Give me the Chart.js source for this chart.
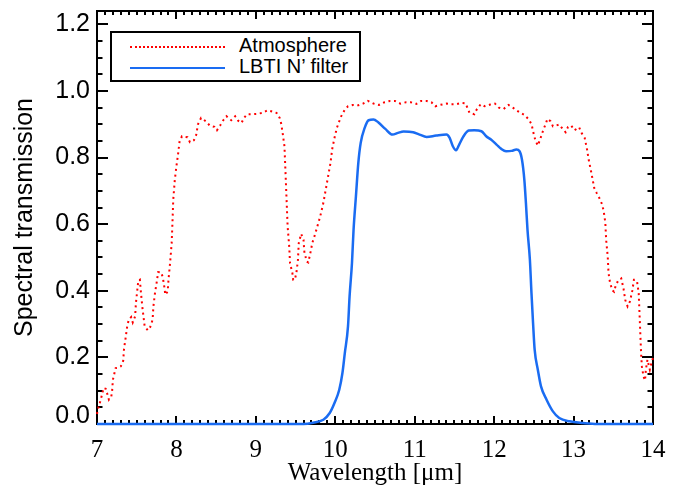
<!DOCTYPE html>
<html>
<head>
<meta charset="utf-8">
<script src="https://cdn.jsdelivr.net/npm/chart.js@4/dist/chart.umd.min.js"></script>
<style>
html,body{margin:0;padding:0;background:#fff;}
#wrap{position:relative;width:683px;height:493px;overflow:hidden;}
#legend{position:absolute;left:110px;top:31px;width:251px;height:51px;box-sizing:border-box;border:2px solid #000;background:#fff;font-family:'Liberation Sans',Arial,sans-serif;font-size:20px;line-height:20px;color:#000;}
#legend .s{position:absolute;left:18px;width:95px;}
#legend .t{position:absolute;left:127px;white-space:nowrap;}
</style>
</head>
<body>
<div id="wrap">
<canvas id="c" width="683" height="493"></canvas>
<div id="legend">
  <div class="s" style="top:12.7px;border-top:2px dotted #ff0000;"></div>
  <div class="t" style="top:2.4px;">Atmosphere</div>
  <div class="s" style="top:33.5px;border-top:2.5px solid #1a6cf2;"></div>
  <div class="t" style="top:23.4px;">LBTI N’ filter</div>
</div>
</div>
<script>
// ---- Data ----
const atmWavelength = [7.00,7.01,7.03,7.05,7.07,7.08,7.11,7.13,7.15,7.18,7.19,7.20,7.22,7.235,7.27,7.30,7.33,7.34,7.36,7.38,7.40,7.43,7.45,7.48,7.49,7.51,7.52,7.54,7.55,7.57,7.59,7.60,7.64,7.67,7.70,7.71,7.73,7.75,7.77,7.81,7.83,7.85,7.86,7.89,7.90,7.92,7.94,7.95,7.96,7.98,8.00,8.02,8.04,8.07,8.11,8.14,8.17,8.22,8.25,8.27,8.31,8.37,8.42,8.48,8.51,8.55,8.59,8.63,8.69,8.74,8.78,8.82,8.85,8.89,8.95,9.01,9.08,9.15,9.21,9.26,9.30,9.32,9.34,9.36,9.37,9.38,9.39,9.40,9.42,9.43,9.46,9.47,9.49,9.51,9.53,9.54,9.57,9.60,9.61,9.64,9.66,9.69,9.71,9.75,9.78,9.81,9.85,9.88,9.91,9.94,9.96,9.99,10.02,10.07,10.12,10.16,10.22,10.29,10.35,10.41,10.48,10.55,10.62,10.69,10.75,10.82,10.89,10.95,11.02,11.08,11.15,11.21,11.26,11.32,11.40,11.46,11.52,11.59,11.64,11.69,11.75,11.78,11.83,11.88,11.95,12.01,12.06,12.12,12.18,12.24,12.28,12.32,12.38,12.43,12.47,12.50,12.52,12.55,12.57,12.60,12.62,12.65,12.67,12.71,12.74,12.78,12.82,12.87,12.90,12.93,12.97,13.01,13.07,13.10,13.14,13.17,13.19,13.22,13.24,13.26,13.29,13.33,13.36,13.38,13.40,13.41,13.43,13.44,13.46,13.49,13.51,13.53,13.56,13.60,13.63,13.65,13.68,13.71,13.74,13.76,13.78,13.80,13.82,13.83,13.84,13.85,13.86,13.88,13.90,13.91,13.93,13.96,13.98,14.00];
const atmTransmission = [0.030,0.043,0.058,0.076,0.094,0.108,0.106,0.090,0.073,0.083,0.098,0.133,0.153,0.168,0.169,0.173,0.190,0.225,0.258,0.293,0.313,0.321,0.305,0.323,0.363,0.408,0.430,0.433,0.403,0.353,0.313,0.293,0.281,0.291,0.313,0.353,0.393,0.423,0.456,0.455,0.438,0.408,0.388,0.398,0.433,0.483,0.543,0.604,0.674,0.734,0.774,0.809,0.849,0.864,0.862,0.861,0.846,0.852,0.869,0.899,0.919,0.909,0.896,0.892,0.882,0.896,0.912,0.924,0.912,0.924,0.910,0.904,0.919,0.930,0.930,0.931,0.934,0.942,0.938,0.934,0.919,0.901,0.869,0.834,0.774,0.714,0.653,0.593,0.533,0.483,0.453,0.433,0.433,0.453,0.493,0.543,0.571,0.553,0.518,0.488,0.485,0.518,0.543,0.573,0.598,0.623,0.664,0.704,0.744,0.784,0.824,0.859,0.889,0.922,0.944,0.954,0.958,0.957,0.962,0.970,0.962,0.958,0.966,0.970,0.970,0.962,0.966,0.966,0.961,0.970,0.970,0.966,0.954,0.958,0.962,0.960,0.960,0.964,0.963,0.934,0.930,0.944,0.960,0.954,0.959,0.962,0.950,0.946,0.958,0.949,0.942,0.936,0.928,0.916,0.901,0.869,0.851,0.836,0.849,0.869,0.884,0.901,0.916,0.909,0.894,0.896,0.899,0.884,0.876,0.892,0.896,0.882,0.891,0.874,0.859,0.824,0.794,0.759,0.734,0.709,0.694,0.676,0.659,0.638,0.604,0.553,0.503,0.453,0.423,0.401,0.397,0.415,0.430,0.437,0.405,0.373,0.353,0.368,0.401,0.433,0.433,0.427,0.393,0.333,0.273,0.213,0.173,0.143,0.131,0.163,0.193,0.163,0.183,0.198];

const filterWavelength = [7.00,9.60,9.72,9.85,9.93,9.99,10.05,10.09,10.12,10.16,10.18,10.21,10.23,10.26,10.29,10.32,10.37,10.42,10.48,10.54,10.63,10.72,10.79,10.86,10.98,11.06,11.15,11.27,11.40,11.44,11.48,11.52,11.56,11.61,11.68,11.75,11.84,11.90,11.96,12.03,12.09,12.15,12.22,12.28,12.32,12.35,12.38,12.40,12.42,12.45,12.47,12.49,12.51,12.55,12.59,12.66,12.74,12.82,12.95,13.12,13.30,14.00];
const filterTransmission = [0.000,0.000,0.004,0.013,0.033,0.063,0.103,0.153,0.213,0.293,0.383,0.483,0.583,0.684,0.784,0.844,0.889,0.912,0.914,0.906,0.886,0.869,0.874,0.878,0.876,0.869,0.862,0.866,0.869,0.859,0.834,0.822,0.839,0.862,0.881,0.882,0.879,0.864,0.854,0.839,0.826,0.819,0.820,0.824,0.819,0.794,0.734,0.664,0.583,0.493,0.393,0.303,0.223,0.163,0.113,0.073,0.038,0.018,0.008,0.003,0.000,0.000];

const xTickValues = [7, 8, 9, 10, 11, 12, 13, 14];
const yTickValues = [0.0, 0.2, 0.4, 0.6, 0.8, 1.0, 1.2];
const xMinorStep = 0.1;
const yMinorStep = 0.05;
const xRange = [7, 14];
const yRange = [0, 1.24];

// ---- Plugins ----
const framePlugin = {
  id: 'frameTicks',
  beforeDatasetsDraw(chart) {
    const {ctx, chartArea: {left, right, top, bottom}, scales: {x, y}} = chart;
    ctx.save();
    ctx.strokeStyle = '#000';
    ctx.lineWidth = 2;
    ctx.strokeRect(left, top, right - left, bottom - top);
    ctx.beginPath();
    const nx = Math.round((xRange[1] - xRange[0]) / xMinorStep);
    for (let i = 0; i <= nx; i++) {
      const v = xRange[0] + i * xMinorStep;
      const px = Math.round(x.getPixelForValue(v));
      const len = (i % 10 === 0) ? 8 : 4;
      ctx.moveTo(px, bottom); ctx.lineTo(px, bottom - len);
      ctx.moveTo(px, top); ctx.lineTo(px, top + len);
    }
    const ny = Math.floor((yRange[1] - yRange[0]) / yMinorStep + 1e-6);
    for (let i = 0; i <= ny; i++) {
      const v = yRange[0] + i * yMinorStep;
      const py = Math.round(y.getPixelForValue(v));
      const len = (i % 4 === 0) ? 11 : 5.5;
      ctx.moveTo(left, py); ctx.lineTo(left + len, py);
      ctx.moveTo(right, py); ctx.lineTo(right - len, py);
    }
    ctx.stroke();
    ctx.restore();
  }
};

const shiftZeroLabel = {
  id: 'shiftZeroLabel',
  afterLayout(chart) {
    const s = chart.scales.y;
    if (!s || s.__patched) return;
    const orig = s._computeLabelItems;
    s._computeLabelItems = function (ca) {
      const items = orig.call(this, ca);
      items.forEach(it => { if (it.label === '0.0') it.options.translation[1] -= 8; });
      return items;
    };
    s.__patched = true;
  }
};

new Chart(document.getElementById('c'), {
  type: 'line',
  data: {
    datasets: [
      {
        label: 'Atmosphere',
        data: atmWavelength.map((w, i) => ({x: w, y: atmTransmission[i]})),
        borderColor: '#ff0000',
        borderWidth: 2,
        borderDash: [2, 3.6],
        borderCapStyle: 'butt',
        pointRadius: 0,
        tension: 0,
        fill: false,
        clip: false
      },
      {
        label: 'LBTI N’ filter',
        data: filterWavelength.map((w, i) => ({x: w, y: filterTransmission[i]})),
        borderColor: '#1a6cf2',
        borderWidth: 2.5,
        pointRadius: 0,
        cubicInterpolationMode: 'monotone',
        fill: false,
        clip: false
      }
    ]
  },
  options: {
    responsive: false,
    animation: false,
    devicePixelRatio: 1,
    layout: {padding: {left: 0, top: 11, right: 30, bottom: 0}},
    plugins: {legend: {display: false}, tooltip: {enabled: false}},
    scales: {
      x: {
        type: 'linear',
        min: xRange[0], max: xRange[1],
        grid: {display: false, drawTicks: false},
        border: {display: false},
        afterBuildTicks: s => { s.ticks = xTickValues.map(v => ({value: v})); },
        afterFit: s => { s.height = 69; s.paddingLeft = 0; s.paddingRight = 0; },
        ticks: {
          autoSkip: false, maxRotation: 0, padding: 11, color: '#000',
          font: {family: "'Liberation Serif', 'Times New Roman', serif", size: 25},
          callback: v => String(v)
        },
        title: {
          display: true, text: 'Wavelength [μm]', color: '#000',
          font: {family: "'Liberation Serif', 'Times New Roman', serif", size: 25},
          padding: {top: 0, bottom: 5}
        }
      },
      y: {
        type: 'linear',
        min: yRange[0], max: yRange[1],
        grid: {display: false, drawTicks: false},
        border: {display: false},
        afterBuildTicks: s => { s.ticks = yTickValues.map(v => ({value: v})); },
        afterFit: s => { s.width = 97; s.paddingTop = 0; s.paddingBottom = 0; },
        ticks: {
          autoSkip: false, padding: 7, color: '#000',
          font: {family: "'Liberation Sans', Arial, sans-serif", size: 25},
          callback: v => Number(v).toFixed(1)
        },
        title: {
          display: true, text: 'Spectral transmission', color: '#000',
          font: {family: "'Liberation Sans', Arial, sans-serif", size: 25},
          padding: {top: 10, bottom: 0}
        }
      }
    }
  },
  plugins: [framePlugin, shiftZeroLabel]
});
</script>
</body>
</html>
